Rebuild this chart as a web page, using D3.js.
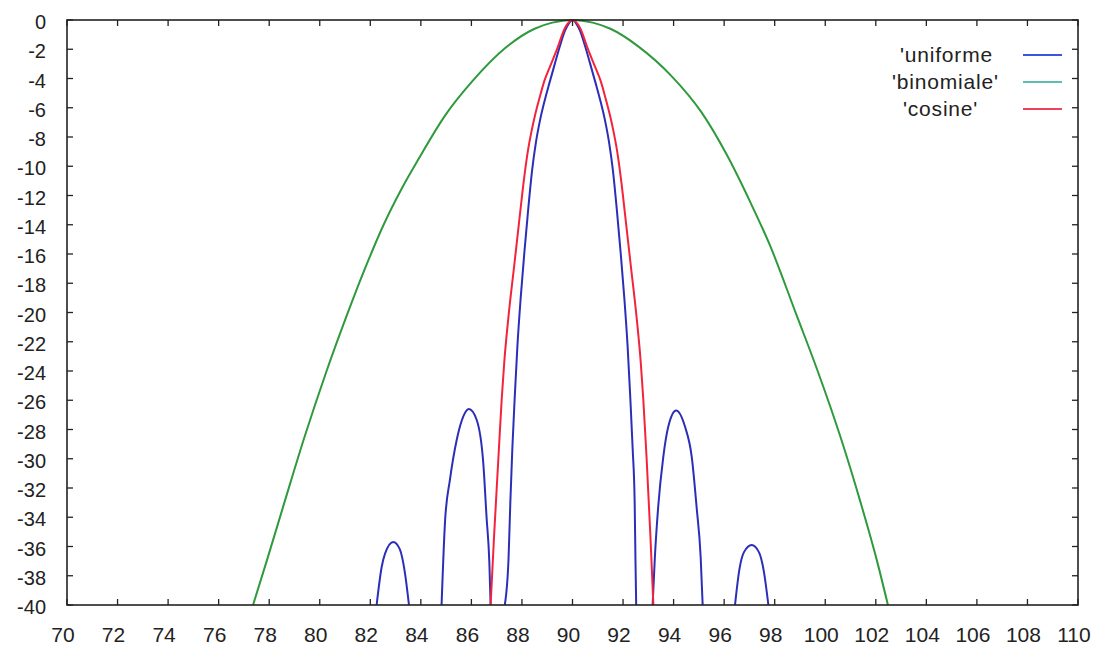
<!DOCTYPE html>
<html>
<head>
<meta charset="utf-8">
<script src="https://cdn.jsdelivr.net/npm/d3@7"></script>
<style>
  body { margin: 0; background: #fff; }
  text { font-family: "Liberation Sans", Arial, sans-serif; fill: #222; }
</style>
</head>
<body>
<svg id="chart" width="1095" height="650"></svg>
<script>
(function() {
  'use strict';

  // axis ticks
  var xTicks = d3.range(70, 111, 2);
  var yTicks = d3.range(-40, 1, 2);

  // series, [angle, dB]; null marks a gap (clipped below -40)
  var uniforme = [
    [82.25, -40], [82.45, -37.4], [82.58, -36.5], [82.91, -35.7], [83.17, -36.2], [83.37, -37.8], [83.53, -40],
    null,
    [84.82, -40], [84.96, -34.2], [85.15, -31.45], [85.42, -28.7], [85.68, -27.1], [85.9, -26.6],
    [86.21, -27.35], [86.47, -30.3], [86.6, -34.0], [86.71, -37.1], [86.76, -40],
    null,
    [87.32, -40], [87.47, -36.8], [87.54, -33], [87.62, -29.3], [87.72, -25.6], [87.82, -22.3],
    [87.95, -19.0], [88.1, -15.8], [88.25, -12.9], [88.4, -10.3], [88.55, -8.4], [88.71, -6.9],
    [88.9, -5.5], [89.08, -4.35], [89.3, -3.0], [89.5, -1.8], [89.7, -0.75], [89.85, -0.25], [90.0, 0],
    [90.15, -0.25], [90.3, -0.75], [90.5, -1.8], [90.7, -3.0], [90.92, -4.35], [91.1, -5.5],
    [91.29, -6.9], [91.45, -8.4], [91.6, -10.3], [91.75, -12.9], [91.9, -15.8], [92.05, -19.0],
    [92.18, -22.3], [92.28, -25.6], [92.38, -29.3], [92.46, -33], [92.49, -36.8], [92.52, -40],
    null,
    [93.17, -40], [93.26, -36.7], [93.39, -33.3], [93.59, -29.9], [93.79, -27.8], [94.1, -26.7],
    [94.45, -27.8], [94.72, -29.9], [94.91, -33.3], [95.07, -36.7], [95.15, -40],
    null,
    [96.43, -40], [96.6, -37.6], [96.78, -36.4], [97.09, -35.9], [97.38, -36.4], [97.58, -37.8], [97.75, -40]
  ];

  var binomiale = [
    [77.36, -40], [77.9, -37], [78.6, -33], [79.4, -28.5], [80.25, -24.1], [81.07, -20.2],
    [81.8, -16.95], [82.5, -14.1], [83.25, -11.5], [83.92, -9.47], [84.97, -6.5], [86.03, -4.2],
    [87.35, -1.9], [88.5, -0.6], [89.2, -0.18], [90.0, 0],
    [90.8, -0.18], [91.5, -0.6], [92.6, -1.8], [93.9, -3.8], [95.1, -6.3], [96.1, -9.2],
    [97.02, -12.4], [97.81, -15.4], [98.87, -20.2], [99.7, -24], [100.6, -28.5], [101.4, -33],
    [102.05, -37], [102.48, -40]
  ];

  var cosine = [
    [86.76, -40], [86.9, -35.2], [87.07, -29.9], [87.2, -25.9], [87.3, -23.4], [87.46, -20.4],
    [87.7, -16.7], [87.92, -13.3], [88.08, -10.9], [88.25, -8.8], [88.38, -7.6], [88.52, -6.5],
    [88.7, -5.3], [88.88, -4.2], [89.13, -3.1], [89.4, -1.94], [89.7, -0.55], [90.0, 0],
    [90.3, -0.55], [90.6, -1.94], [90.87, -3.1], [91.12, -4.2], [91.3, -5.3], [91.48, -6.5],
    [91.62, -7.6], [91.75, -8.8], [91.92, -10.9], [92.08, -13.3], [92.3, -16.7], [92.54, -20.4],
    [92.7, -23.4], [92.8, -25.9], [92.93, -29.9], [93.08, -35.2], [93.2, -40]
  ];

  var seriesNames = ["'uniforme", "'binomiale'", "'cosine'"];
  var seriesData = [uniforme, binomiale, cosine];
  var seriesColors = ['#2b2fb8', '#2e9a3c', '#f2243c'];
  var legendColors = ['#3a55e0', '#5cc0b0', '#f2405a'];

  var $svg = d3.select('#chart');
  var xScale = d3.scaleLinear().domain([70, 110]).range([67, 1078]);
  var yScale = d3.scaleLinear().domain([-40, 0]).range([605, 20]);

  $svg.append('rect')
    .attr('width', 1095).attr('height', 650).attr('fill', '#fff');

  // ticks, mirrored on all four sides, pointing inward
  var tickLen = 6;
  var $ticks = $svg.append('g').attr('stroke', '#222').attr('stroke-width', 1.3);
  xTicks.forEach(function(t) {
    var x = xScale(t);
    $ticks.append('line').attr('x1', x).attr('x2', x).attr('y1', yScale(-40)).attr('y2', yScale(-40) - tickLen);
    $ticks.append('line').attr('x1', x).attr('x2', x).attr('y1', yScale(0)).attr('y2', yScale(0) + tickLen);
  });
  yTicks.forEach(function(t) {
    var y = yScale(t);
    $ticks.append('line').attr('x1', xScale(70)).attr('x2', xScale(70) + tickLen).attr('y1', y).attr('y2', y);
    $ticks.append('line').attr('x1', xScale(110)).attr('x2', xScale(110) - tickLen).attr('y1', y).attr('y2', y);
  });

  $svg.selectAll('text.xlab')
    .data(xTicks)
    .enter()
    .append('text')
    .attr('class', 'xlab')
    .attr('x', function(d) { return xScale(d) - 4; })
    .attr('y', 642)
    .attr('text-anchor', 'middle')
    .style('font-size', '21px')
    .text(function(d) { return d; });

  $svg.selectAll('text.ylab')
    .data(yTicks)
    .enter()
    .append('text')
    .attr('class', 'ylab')
    .attr('x', 46)
    .attr('y', function(d) { return yScale(d) + 9; })
    .attr('text-anchor', 'end')
    .style('font-size', '20px')
    .text(function(d) { return d; });

  var line = d3.line()
    .defined(function(d) { return d !== null; })
    .x(function(d) { return xScale(d[0]); })
    .y(function(d) { return yScale(d[1]); })
    .curve(d3.curveMonotoneX);

  var $plot = $svg.append('g');
  seriesData.forEach(function(data, i) {
    $plot.append('path')
      .attr('d', line(data))
      .attr('fill', 'none')
      .attr('stroke', seriesColors[i])
      .attr('stroke-width', 2);
  });

  // border
  $svg.append('rect')
    .attr('x', xScale(70)).attr('y', yScale(0))
    .attr('width', xScale(110) - xScale(70))
    .attr('height', yScale(-40) - yScale(0))
    .attr('fill', 'none')
    .attr('stroke', '#222')
    .attr('stroke-width', 1.6);

  // key
  var keyRows = [55, 82, 109];
  var keyTextX = [900, 892, 903];
  var $key = $svg.append('g');
  seriesNames.forEach(function(name, i) {
    $key.append('text')
      .attr('x', keyTextX[i])
      .attr('y', keyRows[i] + 7)
      .style('font-size', '21px')
      .style('letter-spacing', '0.8px')
      .text(name);
    $key.append('line')
      .attr('x1', 1023).attr('x2', 1062)
      .attr('y1', keyRows[i]).attr('y2', keyRows[i])
      .attr('stroke', legendColors[i])
      .attr('stroke-width', 2);
  });
})();
</script>
</body>
</html>
